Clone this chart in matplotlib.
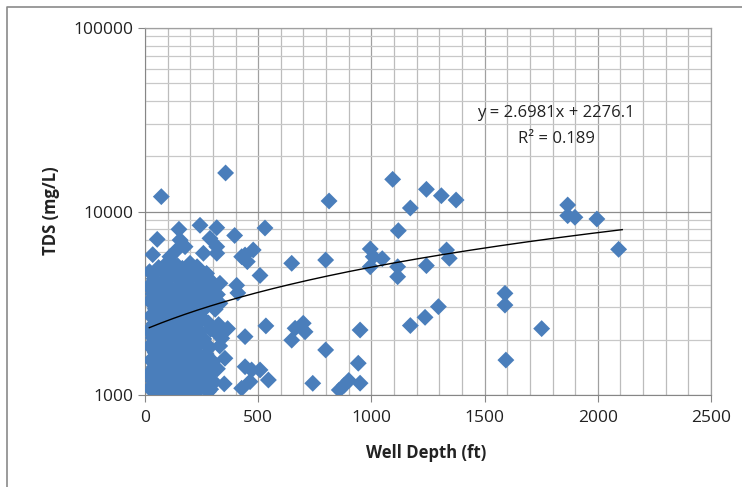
import matplotlib
matplotlib.use("Agg")
import matplotlib.pyplot as plt
from matplotlib.lines import Line2D
from matplotlib.ticker import LogLocator, NullFormatter, FixedLocator
import numpy as np

# ── style ──────────────────────────────────────────────────────────────────
plt.rcParams.update({
    "font.family": ["Open Sans", "DejaVu Sans"],
    "font.size": 12,
    "text.color": "#222222",
})

MARKER = "#4a7ebb"
AXIS = "#868686"

# ── data: well depth (ft) and TDS (mg/L) ───────────────────────────────────
# scattered points
depth_sparse = [72, 356, 813, 1094, 1243, 1309, 1374, 1172, 1867, 1867, 1899,
                1996, 2092, 1119, 995, 1008, 1048, 995, 1116, 1116, 1243, 1332,
                1344, 1590, 1590, 1594, 1752, 1296, 1237, 1172, 950, 942, 950,
                858, 880, 900, 798, 798, 648, 530, 396, 243, 150, 317, 54, 34,
                478, 442, 452, 508, 534, 442, 663, 699, 707, 648, 442, 471, 508,
                464, 545, 427, 741, 405, 410, 365, 331, 331, 317, 339, 353, 287,
                280, 287, 155, 177, 140, 110, 96, 125, 199, 228, 272, 258, 317,
                317, 427]
tds_sparse = [12050, 16220, 11410, 14970, 13210, 12190, 11550, 10450, 10850,
              9490, 9300, 9100, 6220, 7860, 6250, 5670, 5530, 5000, 5000, 4410,
              5070, 6170, 5560, 3580, 3090, 1550, 2300, 3030, 2650, 2390, 2260,
              1490, 1160, 1065, 1130, 1200, 5440, 1760, 5220, 8130, 7400, 8410,
              8000, 8160, 7050, 5820, 6170, 5795, 5330, 4480, 2380, 2080, 2310,
              2460, 2210, 1990, 1426, 1369, 1369, 1182, 1207, 1088, 1158, 3960,
              3600, 2300, 4060, 3160, 2170, 2037, 1585, 1207, 1042, 7140, 6990,
              6430, 6170, 5670, 5220, 5220, 5220, 4800, 4600, 5920, 5920, 6430,
              5670]

# dense cluster of shallow wells (0-350 ft), read row by row
depth_cluster = [20, 75, 120, 170, 215, 255,
                 40, 95, 140, 190, 235, 290,
                 15, 60, 110, 160, 205, 250, 300,
                 35, 85, 130, 180, 225, 275, 320,
                 20, 65, 105, 150, 200, 245, 290,
                 45, 90, 135, 175, 220, 265, 310,
                 25, 70, 115, 160, 205, 250,
                 40, 95, 140, 185, 230, 280, 325,
                 15, 60, 110, 155, 200, 245, 290,
                 35, 80, 125, 170, 215, 260,
                 20, 65, 105, 150, 195, 240, 285, 330,
                 45, 90, 135, 180, 225, 270,
                 25, 70, 115, 160, 205, 250, 300,
                 40, 85, 130, 175, 220, 265, 320,
                 15, 60, 105, 150, 195, 240, 285,
                 35, 80, 125, 170, 215, 260, 305, 350,
                 20, 65, 110, 155, 200, 245, 290,
                 45, 90, 135, 180, 230,
                 60, 145, 165, 230]
tds_cluster = [4700, 4750, 4650, 4720, 4680, 4600,
               4300, 4250, 4350, 4280, 4320, 4200,
               3900, 3950, 3880, 3920, 3860, 3940, 3900,
               3550, 3520, 3580, 3540, 3560, 3500, 3530,
               3250, 3280, 3220, 3260, 3240, 3270, 3200,
               2950, 2980, 2920, 2960, 2940, 2970, 2930,
               2700, 2720, 2680, 2710, 2690, 2650,
               2450, 2480, 2430, 2460, 2440, 2470, 2420,
               2250, 2270, 2230, 2260, 2240, 2220, 2280,
               2050, 2070, 2030, 2060, 2040, 2020,
               1850, 1870, 1830, 1860, 1840, 1880, 1820, 1850,
               1700, 1720, 1680, 1710, 1690, 1670,
               1550, 1570, 1530, 1560, 1540, 1580, 1520,
               1420, 1440, 1400, 1430, 1410, 1450, 1390,
               1300, 1310, 1290, 1305, 1295, 1320, 1280,
               1190, 1200, 1180, 1195, 1185, 1210, 1175, 1150,
               1090, 1100, 1080, 1095, 1085, 1105, 1075,
               1030, 1025, 1035, 1020, 1040,
               4950, 5050, 4900, 5000]

# linear trendline reported on the chart
slope, intercept = 2.6981, 2276.1
trend_x = [19, 2108]

# ── plot ───────────────────────────────────────────────────────────────────
fig = plt.figure(figsize=(7.42, 4.87), dpi=100)
fig.patch.set_facecolor("white")
ax = fig.add_axes([145 / 742, 1 - 395 / 487, 566 / 742, 367 / 487])

depth = np.array(depth_sparse + depth_cluster)
tds = np.array(tds_sparse + tds_cluster)
ax.scatter(depth, tds, marker="D", s=74, color=MARKER, edgecolors="none",
           zorder=3)

tx = np.linspace(trend_x[0], trend_x[1], 200)
ax.plot(tx, slope * tx + intercept, color="black", linewidth=1.0, zorder=4)

ax.set_yscale("log")
ax.set_xlim(0, 2500)
ax.set_ylim(1000, 100000)

ax.set_xticks(np.arange(0, 2501, 500))
ax.xaxis.set_minor_locator(FixedLocator(np.arange(0, 2501, 100)))
ax.set_yticks([1000, 10000, 100000])
ax.set_yticklabels(["1000", "10000", "100000"])
ax.yaxis.set_minor_locator(LogLocator(base=10, subs=np.arange(2, 10)))
ax.yaxis.set_minor_formatter(NullFormatter())

ax.grid(True, which="major", axis="x", color="#a0a0a0", linewidth=0.9)
ax.grid(True, which="minor", axis="x", color="#bcbcbc", linewidth=0.9)
ax.grid(True, which="major", axis="y", color="#8c8c8c", linewidth=0.9)
ax.grid(True, which="minor", axis="y", color="#c8c8c8", linewidth=0.9)
ax.set_axisbelow(True)

ax.tick_params(which="major", direction="out", length=5, color=AXIS,
               labelsize=12.5, labelcolor="#222222")
ax.tick_params(which="minor", length=0)
ax.tick_params(axis="x", pad=6)
for side in ("left", "bottom"):
    ax.spines[side].set_color(AXIS)
for side in ("top", "right"):
    ax.spines[side].set_color("#a0a0a0")
    ax.spines[side].set_linewidth(0.9)

fig.text(426 / 742, 1 - 453 / 487, "Well Depth (ft)", ha="center",
         va="center", fontsize=12, fontweight="bold")
fig.text(51 / 742, 1 - 211 / 487, "TDS (mg/L)", ha="center", va="center",
         rotation=90, fontsize=12, fontweight="bold")

fig.text(556 / 742, 1 - 113 / 487, "y = 2.6981x + 2276.1", ha="center",
         va="center", fontsize=12)
fig.text(556 / 742, 1 - 139 / 487, "R² = 0.189", ha="center", va="center",
         fontsize=12)

# outer chart-area border (cropped on the right and bottom)
fig.add_artist(Line2D([7 / 742, 7 / 742, 1.0], [0.0, 1 - 7 / 487, 1 - 7 / 487],
                      transform=fig.transFigure, color="#8a8a8a", linewidth=1.2))

fig.savefig("out.png", dpi=100)
